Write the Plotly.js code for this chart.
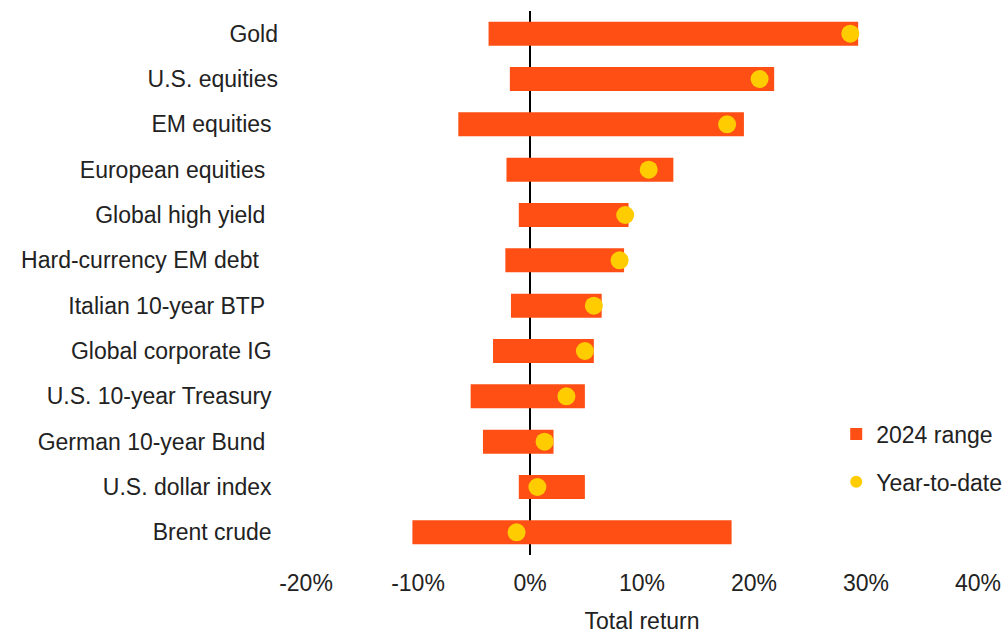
<!DOCTYPE html>
<html><head><meta charset="utf-8">
<script src="https://cdn.plot.ly/plotly-3.0.1.min.js"></script>
<style>html,body{margin:0;padding:0;background:#fff}#chart{width:1006px;height:634px}</style>
</head><body><div id="chart"></div>
<script>
const categories = ["Gold","U.S. equities","EM equities","European equities","Global high yield","Hard-currency EM debt","Italian 10-year BTP","Global corporate IG","U.S. 10-year Treasury","German 10-year Bund","U.S. dollar index","Brent crude"];
const rangeMin = [-3.7,-1.8,-6.4,-2.1,-1.0,-2.2,-1.7,-3.3,-5.3,-4.2,-1.0,-10.5];
const rangeMax = [29.3,21.8,19.1,12.8,8.8,8.4,6.4,5.7,4.9,2.1,4.9,18.0];
const ytd = [28.6,20.5,17.6,10.6,8.5,8.0,5.7,4.9,3.25,1.3,0.66,-1.2];
const xTickVals = [-20,-10,0,10,20,30,40];
const xTickText = ["-20%","-10%","0%","10%","20%","30%","40%"];
// trailing padding (in spaces) reproducing the reference's uneven label alignment
const labelPad = [0,0,1,2,2,3,2,1,1,2,1,1];

const font = "Liberation Sans, Arial, sans-serif";
const NB = "\u00A0";
const yTickText = categories.map((c,i)=>c + NB.repeat(labelPad[i]));
const traces = [
  {type:"bar", orientation:"h", y:categories, base:rangeMin,
   x:rangeMin.map((m,i)=>rangeMax[i]-m), width:0.53,
   marker:{color:"#FF4F14"}, name:"2024 range", legendgroup:"a", hoverinfo:"skip"},
  {type:"scatter", mode:"markers", y:categories, x:ytd,
   marker:{color:"#FFCC00", size:18}, name:"Year-to-date", legendgroup:"b", hoverinfo:"skip"}
];
const layout = {
  width:1006, height:634,
  margin:{l:306, r:28, t:11, b:79, autoexpand:false},
  paper_bgcolor:"#fff", plot_bgcolor:"#fff",
  font:{family:font, size:23, color:"#222"},
  showlegend:true,
  legend:{x:0.789, y:0.262, xanchor:"left", yanchor:"top", traceorder:"grouped", tracegroupgap:15,
          font:{size:23, color:"#222"}, bgcolor:"rgba(0,0,0,0)", itemwidth:30, itemsizing:"constant"},
  xaxis:{range:[-20,40], tickvals:xTickVals, ticktext:xTickText, showgrid:false,
         zeroline:true, zerolinecolor:"#000", zerolinewidth:2, showline:false, ticks:"",
         ticklabelstandoff:12, automargin:false,
         title:{text:"Total return", font:{size:23, color:"#222"}, standoff:18}},
  yaxis:{type:"category", categoryorder:"array", categoryarray:categories, autorange:false, range:[11.5,-0.5],
         tickvals:categories, ticktext:yTickText, automargin:false,
         showgrid:false, zeroline:false, showline:false, ticks:"", ticklabelstandoff:27}
};
Plotly.newPlot("chart", traces, layout, {displayModeBar:false, staticPlot:true});
</script></body></html>
